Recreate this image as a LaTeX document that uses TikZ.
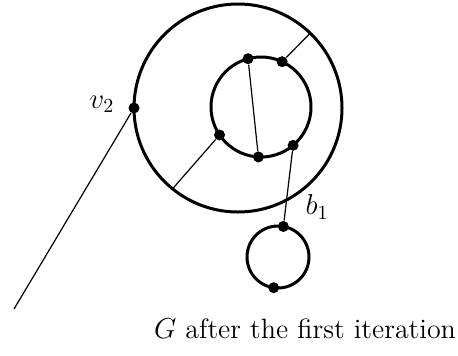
\documentclass[tikz,border=0pt]{standalone}
\usepackage{amsmath, amssymb}
\usepackage{tikz}
\usetikzlibrary{positioning, calc}

\begin{document}
\begin{tikzpicture}[
    x=0.5pt, y=0.5pt,
    ring/.style={draw, line width=1.5pt},
    edge/.style={draw, line width=0.6pt},
    vtx/.style={circle, fill, inner sep=0pt, minimum size=5.5pt},
    lbl/.style={font=\fontsize{14}{17}\selectfont},
    every node/.style={align=center}
]
\useasboundingbox (0,0) rectangle (458,355);

% ---- Circles ----
\coordinate (co) at (238,247);
\coordinate (ci) at (261,248);
\coordinate (cs) at (278,98);
\draw[ring] (co) circle (52pt);
\draw[ring] (ci) circle (25pt);
\draw[ring] (cs) circle (15.5pt);

% ---- Vertices ----
\node[vtx] (v2) at ($(co)+(180:52pt)$) {};
\node[vtx] (i1) at ($(ci)+(105:25pt)$) {};
\node[vtx] (i2) at ($(ci)+(65:25pt)$) {};
\node[vtx] (i3) at ($(ci)+(214:25pt)$) {};
\node[vtx] (i4) at ($(ci)+(267:25pt)$) {};
\node[vtx] (i5) at ($(ci)+(310:25pt)$) {};
\node[vtx] (s1) at ($(cs)+(80:15.5pt)$) {};
\node[vtx] (s2) at ($(cs)+(262:15.5pt)$) {};

\coordinate (o1) at ($(co)+(46:52pt)$);
\coordinate (o2) at ($(co)+(231:52pt)$);
\coordinate (far) at (14,46);

% ---- Edges ----
\draw[edge] (i2) -- (o1);
\draw[edge] (i3) -- (o2);
\draw[edge] (i1) -- (i4);
\draw[edge] (i5) -- (s1);
\draw[edge] (v2) -- (far);

% ---- Labels ----
\node[lbl] (lv2) at (102,251) {$v_2$};
\node[lbl] (lb1) at (317,148) {$b_1$};
\node[lbl] (cap) at (305,26) {$G$ after the first iteration};

\end{tikzpicture}
\end{document}
